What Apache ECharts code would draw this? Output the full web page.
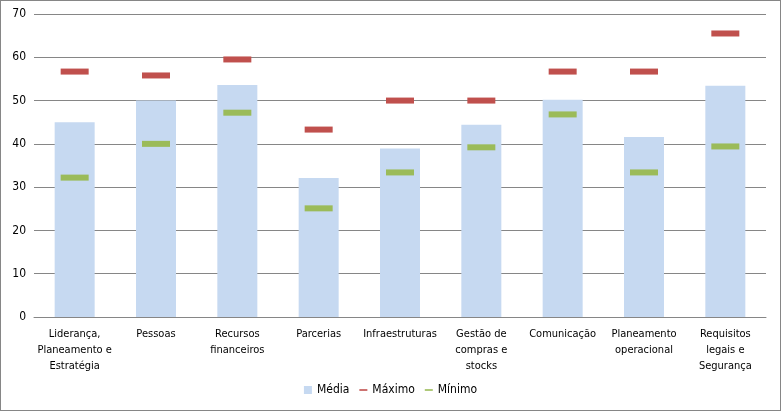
<!DOCTYPE html>
<html>
<head>
<meta charset="utf-8">
<script src="https://cdn.jsdelivr.net/npm/echarts@6/dist/echarts.min.js"></script>
<style>
  html, body { margin: 0; padding: 0; background: #fff; }
  #chart { width: 779px; height: 409px; border: 1px solid #868686; }
</style>
</head>
<body>
<div id="chart"></div>
<script>
const categories = [
  'Liderança,\nPlaneamento e\nEstratégia', 'Pessoas', 'Recursos\nfinanceiros', 'Parcerias',
  'Infraestruturas', 'Gestão de\ncompras e\nstocks', 'Comunicação', 'Planeamento\noperacional',
  'Requisitos\nlegais e\nSegurança'
]
const media = [45.0, 50.0, 53.6, 32.1, 38.9, 44.4, 50.2, 41.6, 53.4]
const maximo = [56.7, 55.8, 59.5, 43.3, 50.0, 50.0, 56.7, 56.7, 65.5]
const minimo = [32.2, 40.0, 47.2, 25.1, 33.4, 39.2, 46.8, 33.4, 39.4]

const font = '"DejaVu Sans Condensed", "Liberation Sans", sans-serif'
const chart = echarts.init(document.getElementById('chart'))

const option = {
  animation: false,
  textStyle: { fontFamily: font },
  grid: { left: 33, right: 14, top: 13, bottom: 93 },
  legend: {
    bottom: 9,
    left: 'center',
    itemWidth: 8,
    itemHeight: 8,
    itemGap: 10,
    textStyle: { fontFamily: font, fontSize: 12, color: '#000' },
    data: [
      { name: 'Média', icon: 'rect' },
      { name: 'Máximo', icon: 'path://M0,4 L10,4 L10,6 L0,6 Z' },
      { name: 'Mínimo', icon: 'path://M0,4 L10,4 L10,6 L0,6 Z' }
    ]
  },
  xAxis: {
    type: 'category',
    data: categories,
    axisLine: { lineStyle: { color: '#868686' } },
    axisTick: { show: false },
    axisLabel: {
      interval: 0,
      color: '#000',
      fontSize: 11,
      lineHeight: 16,
      margin: 9,
      fontFamily: font
    }
  },
  yAxis: {
    type: 'value',
    min: 0,
    max: 70,
    interval: 10,
    axisLine: { show: false },
    axisTick: { show: false },
    axisLabel: { color: '#000', fontSize: 12, margin: 8, fontFamily: font },
    splitLine: { lineStyle: { color: '#868686' } }
  },
  series: [
    {
      name: 'Média',
      type: 'bar',
      data: media,
      barWidth: 40,
      itemStyle: { color: '#c6d9f1' }
    },
    {
      name: 'Máximo',
      type: 'scatter',
      data: maximo,
      symbol: 'rect',
      symbolSize: [28, 6],
      itemStyle: { color: '#c0504d', opacity: 1 }
    },
    {
      name: 'Mínimo',
      type: 'scatter',
      data: minimo,
      symbol: 'rect',
      symbolSize: [28, 6],
      itemStyle: { color: '#9bbb59', opacity: 1 }
    }
  ]
}

chart.setOption(option)
</script>
</body>
</html>
